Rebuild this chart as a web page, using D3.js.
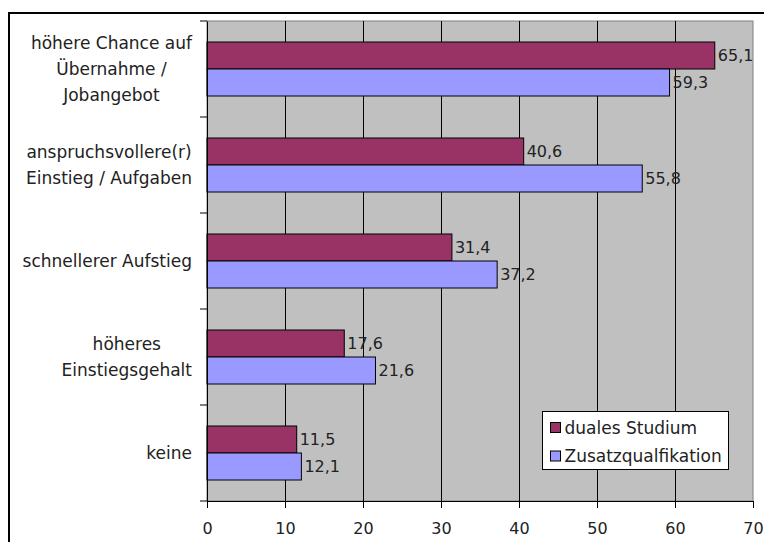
<!DOCTYPE html>
<html>
<head>
<meta charset="utf-8">
<script src="https://cdn.jsdelivr.net/npm/d3@7"></script>
<style>
  body { margin: 0; background: #fff; }
  svg { display: block; font-family: "DejaVu Sans", Verdana, sans-serif; }
</style>
</head>
<body>
<div class="container"></div>
<script>
// data
const categories = [
    ["höhere Chance auf", "Übernahme /", "Jobangebot"],
    ["anspruchsvollere(r)", "Einstieg / Aufgaben"],
    ["schnellerer Aufstieg"],
    ["höheres", "Einstiegsgehalt"],
    ["keine"]
];
const seriesNames = ["duales Studium", "Zusatzqualfikation"];
const dualesStudium = [65.1, 40.6, 31.4, 17.6, 11.5];
const zusatzqualifikation = [59.3, 55.8, 37.2, 21.6, 12.1];
const xTicks = [0, 10, 20, 30, 40, 50, 60, 70];
const colors = ["#993366", "#9999FF"];

const width = 764;
const height = 542;
const plotLeft = 207, plotRight = 753, plotTop = 21, plotBottom = 501;

const svg = d3.select(".container").append("svg")
    .attr("width", width)
    .attr("height", height);

// outer frame (runs off the picture)
svg.append("rect")
    .attr("x", 9).attr("y", 13)
    .attr("width", 800).attr("height", 600)
    .attr("fill", "none")
    .attr("stroke", "#000")
    .attr("stroke-width", 2);

const xScale = d3.scaleLinear().domain([0, 70]).range([plotLeft, plotRight]);
const yScale = d3.scaleBand()
    .domain(d3.range(categories.length))
    .range([plotTop, plotBottom]);

// plot background
svg.append("rect")
    .attr("x", plotLeft).attr("y", plotTop)
    .attr("width", plotRight - plotLeft).attr("height", plotBottom - plotTop)
    .attr("fill", "#C0C0C0")
    .attr("stroke", "#808080");

// gridlines
svg.append("g")
    .selectAll("line")
    .data(xTicks.slice(1, -1))
    .enter()
    .append("line")
    .attr("x1", d => Math.round(xScale(d)) + 0.5)
    .attr("x2", d => Math.round(xScale(d)) + 0.5)
    .attr("y1", plotTop).attr("y2", plotBottom)
    .attr("stroke", "#000");

// bars
const bandH = yScale.bandwidth();
const barH = 27;
const rows = categories.map((c, i) => ({ i, values: [dualesStudium[i], zusatzqualifikation[i]] }));

const groups = svg.append("g").selectAll("g")
    .data(rows)
    .enter()
    .append("g");

groups.each(function (row) {
    const g = d3.select(this);
    const y0 = yScale(row.i) + bandH / 2 - barH;
    row.values.forEach((v, k) => {
        const y = y0 + k * barH;
        g.append("rect")
            .attr("x", xScale(0))
            .attr("y", y)
            .attr("width", xScale(v) - xScale(0))
            .attr("height", barH)
            .attr("fill", colors[k])
            .attr("stroke", "#000")
            .attr("stroke-width", 1);
        g.append("text")
            .attr("x", xScale(v) + 3)
            .attr("y", y + barH / 2)
            .attr("dominant-baseline", "central")
            .attr("font-size", 16)
            .attr("fill", "#222")
            .text(String(v).replace(".", ","));
    });
});

// y axis
const yAxis = d3.axisLeft(yScale).tickSize(0).tickFormat("");
svg.append("g")
    .attr("transform", `translate(${plotLeft},0)`)
    .call(yAxis)
    .call(g => g.select(".domain").attr("stroke", "#000"));

svg.append("g")
    .selectAll("line")
    .data(d3.range(categories.length + 1))
    .enter()
    .append("line")
    .attr("x1", plotLeft - 7).attr("x2", plotLeft)
    .attr("y1", d => plotTop + d * bandH)
    .attr("y2", d => plotTop + d * bandH)
    .attr("stroke", "#000");

// category labels: block right aligned, lines centered in block
const labelRight = 192;
categories.forEach((lines, i) => {
    const cy = yScale(i) + bandH / 2;
    const g = svg.append("g");
    const texts = lines.map((line, j) => g.append("text")
        .attr("y", cy + (j - (lines.length - 1) / 2) * 26)
        .attr("dominant-baseline", "central")
        .attr("text-anchor", "middle")
        .attr("font-size", 17)
        .attr("fill", "#222")
        .text(line));
    const maxW = d3.max(texts, t => t.node().getComputedTextLength());
    texts.forEach(t => t.attr("x", labelRight - maxW / 2));
});

// x axis
const xAxis = d3.axisBottom(xScale).tickValues(xTicks).tickSize(7).tickPadding(15).tickFormat(d3.format("d"));
svg.append("g")
    .attr("transform", `translate(0,${plotBottom})`)
    .call(xAxis)
    .call(g => g.select(".domain").attr("d", `M${plotLeft},0.5H${plotRight}`).attr("stroke", "#000"))
    .call(g => g.selectAll("text").attr("font-size", 16).attr("fill", "#222").attr("font-family", "DejaVu Sans"));

// legend
const legend = svg.append("g").attr("transform", "translate(542.5,411.5)");
legend.append("rect")
    .attr("width", 186).attr("height", 58)
    .attr("fill", "#fff").attr("stroke", "#000");
seriesNames.forEach((name, k) => {
    const cy = 16 + k * 28.5;
    legend.append("rect")
        .attr("x", 8).attr("y", cy - 5)
        .attr("width", 10).attr("height", 10)
        .attr("fill", colors[k]).attr("stroke", "#000");
    legend.append("text")
        .attr("x", 22).attr("y", cy)
        .attr("dominant-baseline", "central")
        .attr("font-size", 17)
        .attr("fill", "#222")
        .text(name);
});
</script>
</body>
</html>
